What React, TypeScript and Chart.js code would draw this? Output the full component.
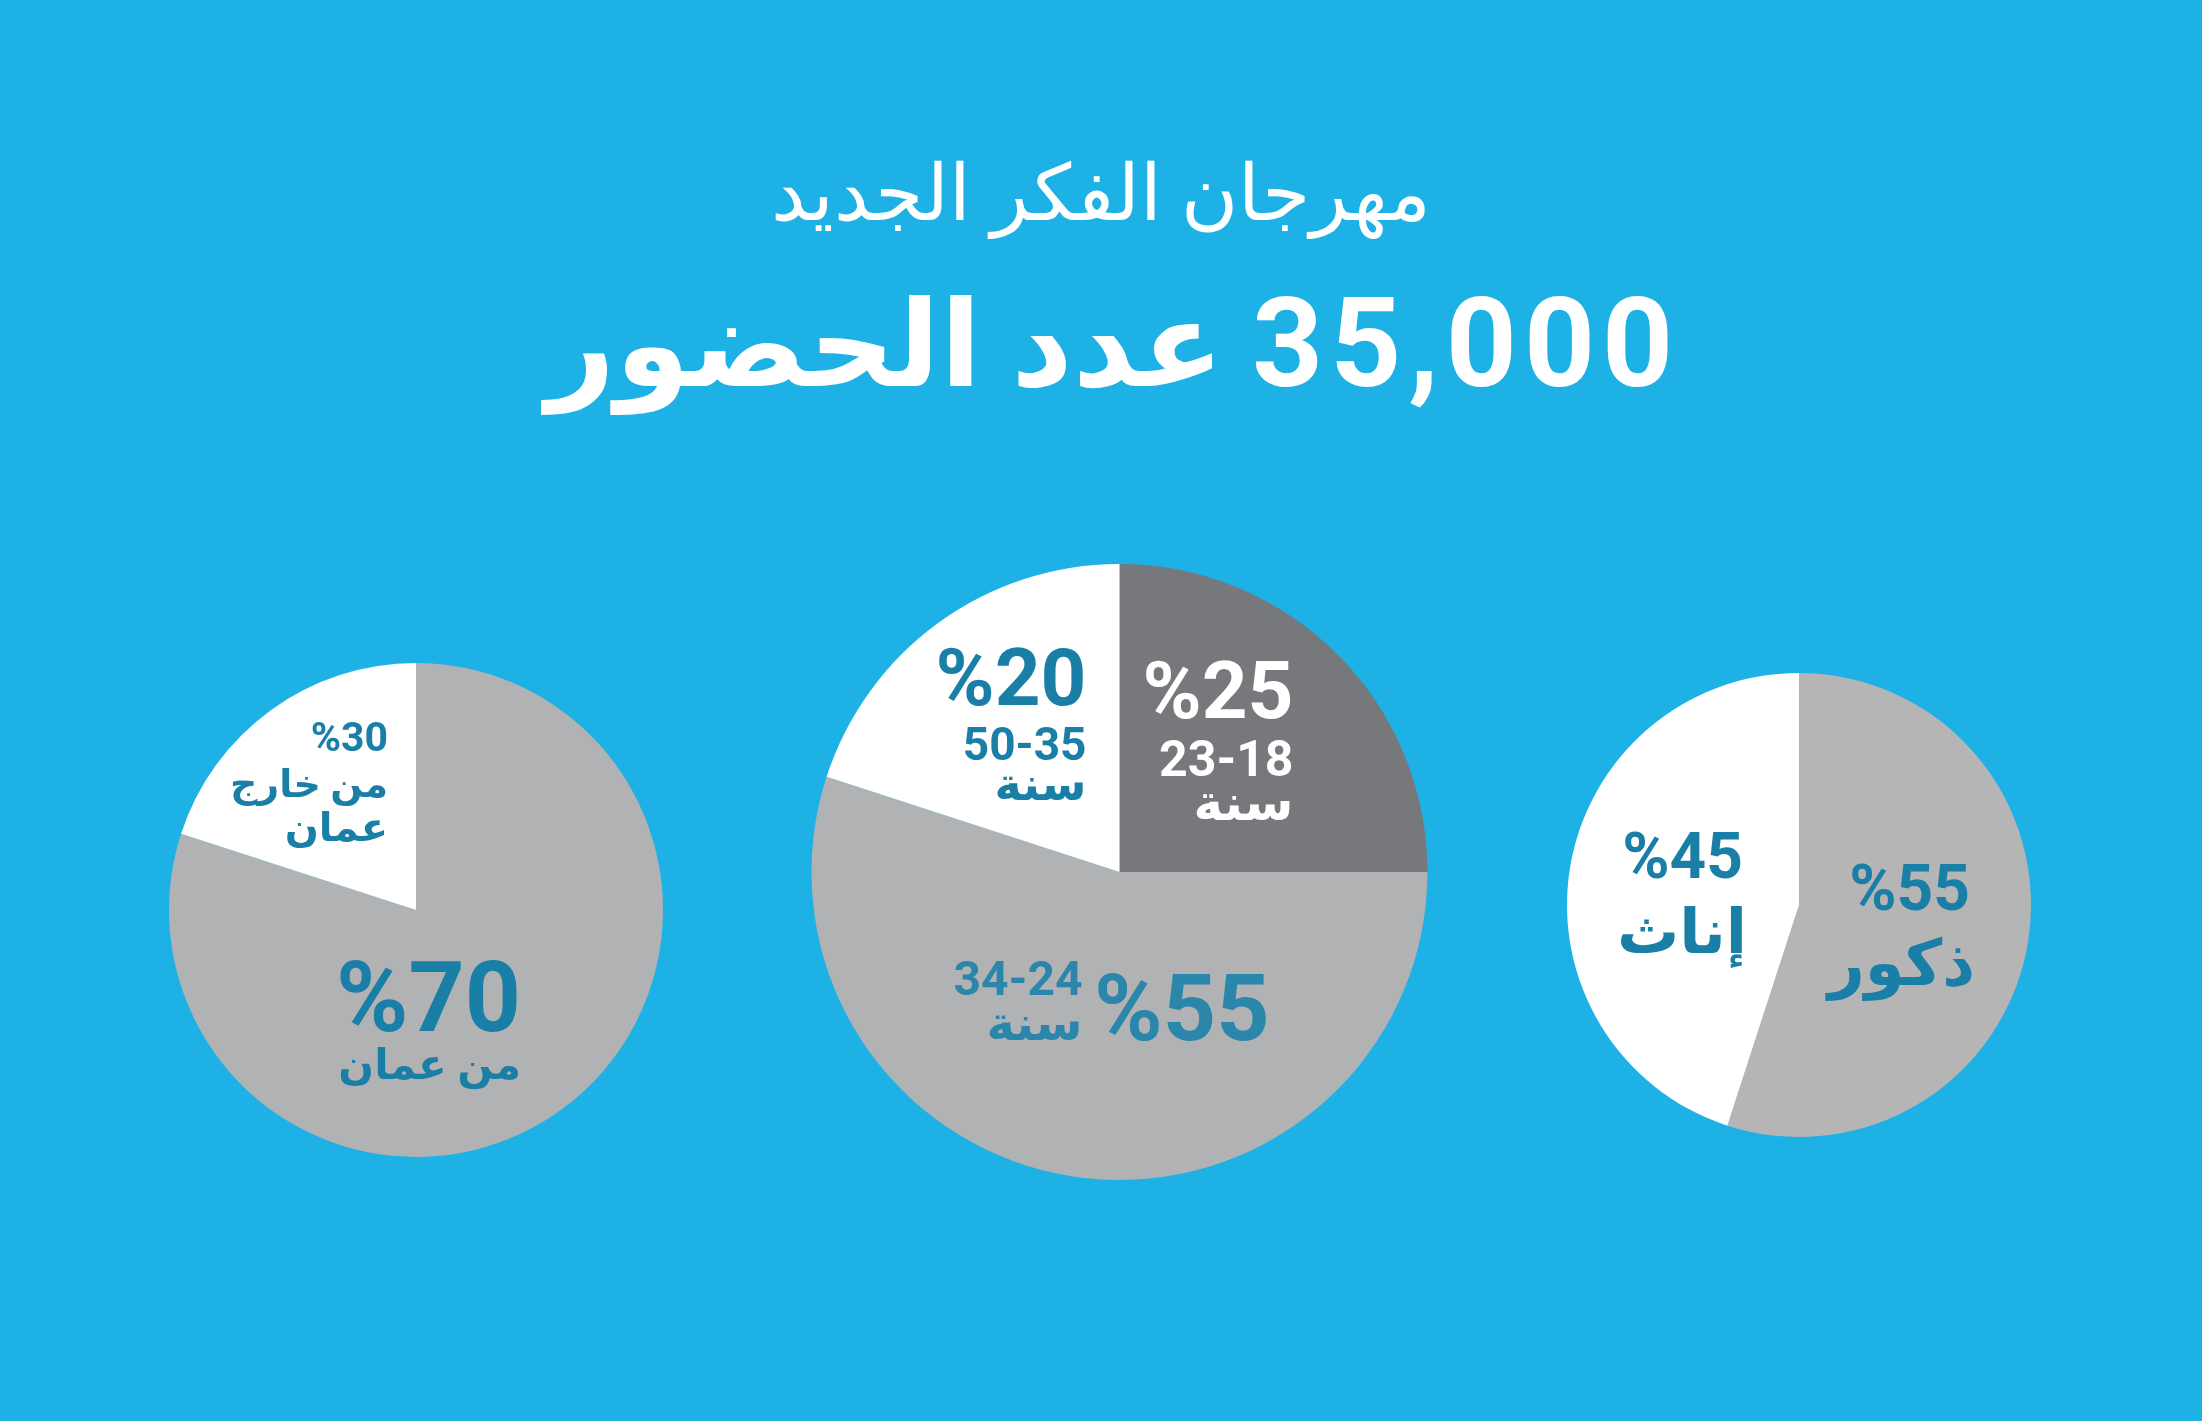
import React, { useEffect, useRef } from "react";
import { Chart, registerables } from "chart.js";

Chart.register(...registerables);

const PAGE_W = 2202;
const PAGE_H = 1421;
const BG = "#1db1e6";
const TEAL = "#1a7fa6";
const TEAL2 = "#2a86ab";
const FONT = "Roboto, 'DejaVu Sans', sans-serif";

// ---- data ----
const titleLine1 = "مهرجان الفكر الجديد";
const titleWords = "عدد الحضور";
const titleNumber = "35,000";

// origin pie (slices as drawn in the picture)
const originCategories = ["من عمان", "من خارج عمان"];
const originShares = [80, 20];
const originLabels = ["%70", "%30"];
const originColors = ["#b1b2b4", "#ffffff"];

// age pie
const ageCategories = ["23-18", "34-24", "50-35"];
const ageShares = [25, 55, 20];
const ageLabels = ["%25", "%55", "%20"];
const ageColors = ["#77787b", "#b1b2b4", "#ffffff"];

// gender pie
const genderCategories = ["ذكور", "إناث"];
const genderShares = [55, 45];
const genderLabels = ["%55", "%45"];
const genderColors = ["#b5b5b6", "#ffffff"];

type Line = { text: string; size: number; color: string; dy: number; dxAdj?: number };
type Block = { dx: number; lines: Line[] };

type PieSpec = {
  cx: number;
  cy: number;
  r: number;
  categories: string[];
  values: number[];
  colors: string[];
  blocks: Block[];
  titles?: boolean;
};

const pies: PieSpec[] = [
  {
    cx: 416,
    cy: 910,
    r: 247,
    categories: originCategories,
    values: originShares,
    colors: originColors,
    blocks: [
      {
        dx: -28,
        lines: [
          { text: originLabels[1], size: 41, color: TEAL, dy: -159 },
          { text: "من خارج", size: 38, color: TEAL, dy: -113 },
          { text: "عمان", size: 40, color: TEAL, dy: -69 },
        ],
      },
      {
        dx: 105,
        lines: [
          { text: originLabels[0], size: 98, color: TEAL, dy: 121 },
          { text: originCategories[0], size: 42, color: TEAL, dy: 169 },
        ],
      },
    ],
  },
  {
    cx: 1119.5,
    cy: 872,
    r: 308,
    categories: ageCategories,
    values: ageShares,
    colors: ageColors,
    titles: true,
    blocks: [
      {
        dx: 174,
        lines: [
          { text: ageLabels[0], size: 80, color: "#ffffff", dy: -154 },
          { text: ageCategories[0], size: 50, color: "#ffffff", dy: -96 },
          { text: "سنة", size: 50, color: "#ffffff", dy: -52 },
        ],
      },
      {
        dx: -33,
        lines: [
          { text: ageLabels[2], size: 80, color: TEAL, dy: -167 },
          { text: ageCategories[2], size: 46, color: TEAL, dy: -112 },
          { text: "سنة", size: 46, color: TEAL, dy: -72 },
        ],
      },
      {
        dx: 150,
        lines: [{ text: ageLabels[1], size: 93, color: TEAL2, dy: 168 }],
      },
      {
        dx: -37,
        lines: [
          { text: ageCategories[1], size: 48, color: TEAL2, dy: 123 },
          { text: "سنة", size: 48, color: TEAL2, dy: 168 },
        ],
      },
    ],
  },
  {
    cx: 1799,
    cy: 905,
    r: 232,
    categories: genderCategories,
    values: genderShares,
    colors: genderColors,
    blocks: [
      {
        dx: -56,
        lines: [
          { text: genderLabels[1], size: 64, color: TEAL, dy: -27 },
          { text: genderCategories[1], size: 62, color: TEAL, dy: 48, dxAdj: 4 },
        ],
      },
      {
        dx: 171,
        lines: [
          { text: genderLabels[0], size: 64, color: TEAL, dy: 5 },
          { text: genderCategories[0], size: 64, color: TEAL, dy: 80, dxAdj: 5 },
        ],
      },
    ],
  },
];

function PieCanvas({ spec }: { spec: PieSpec }) {
  const ref = useRef<HTMLCanvasElement | null>(null);
  useEffect(() => {
    if (!ref.current) return;
    const labelPlugin = {
      id: "pieLabels",
      afterDatasetsDraw(chart: any) {
        const arc = chart.getDatasetMeta(0).data[0];
        const cx = arc.x;
        const cy = arc.y;
        const ctx = chart.ctx as CanvasRenderingContext2D;
        ctx.save();
        ctx.direction = "rtl";
        ctx.textAlign = "right";
        ctx.textBaseline = "alphabetic";
        for (const b of spec.blocks) {
          for (const l of b.lines) {
            ctx.font = `bold ${l.size}px ${FONT}`;
            ctx.fillStyle = l.color;
            ctx.fillText(l.text, cx + b.dx + (l.dxAdj || 0), cy + l.dy);
          }
        }
        if (spec.titles) {
          ctx.fillStyle = "#ffffff";
          ctx.textAlign = "center";
          ctx.font = `300 78px ${FONT}`;
          ctx.fillText(titleLine1, PAGE_W / 2, 220);
          ctx.textAlign = "right";
          ctx.font = `bold 120px ${FONT}`;
          ctx.fillText(titleWords, 1224, 386);
          ctx.direction = "ltr";
          ctx.textAlign = "left";
          ctx.font = `bold 124px ${FONT}`;
          (ctx as any).letterSpacing = "7px";
          ctx.fillText(titleNumber, 1252, 386);
          (ctx as any).letterSpacing = "0px";
        }
        ctx.restore();
      },
    };
    const chart = new Chart(ref.current, {
      type: "pie",
      data: {
        labels: spec.categories,
        datasets: [
          {
            data: spec.values,
            backgroundColor: spec.colors,
            borderWidth: 0,
          },
        ],
      },
      options: {
        animation: false,
        responsive: false,
        devicePixelRatio: 1,
        events: [],
        layout: {
          padding: {
            left: spec.cx - spec.r,
            right: PAGE_W - spec.cx - spec.r,
            top: spec.cy - spec.r,
            bottom: PAGE_H - spec.cy - spec.r,
          },
        },
        plugins: {
          legend: { display: false },
          tooltip: { enabled: false },
          title: { display: false },
        },
      },
      plugins: [labelPlugin],
    });
    return () => chart.destroy();
  }, [spec]);
  return (
    <canvas
      ref={ref}
      width={PAGE_W}
      height={PAGE_H}
      style={{ position: "absolute", left: 0, top: 0, width: PAGE_W, height: PAGE_H }}
    />
  );
}

export default function App() {
  useEffect(() => {
    document.body.style.margin = "0";
    document.documentElement.style.overflow = "hidden";
  }, []);
  return (
    <div
      style={{
        position: "absolute",
        left: 0,
        top: 0,
        width: PAGE_W,
        height: PAGE_H,
        background: BG,
        overflow: "hidden",
      }}
    >
      {pies.map((p, i) => (
        <PieCanvas key={i} spec={p} />
      ))}
    </div>
  );
}
